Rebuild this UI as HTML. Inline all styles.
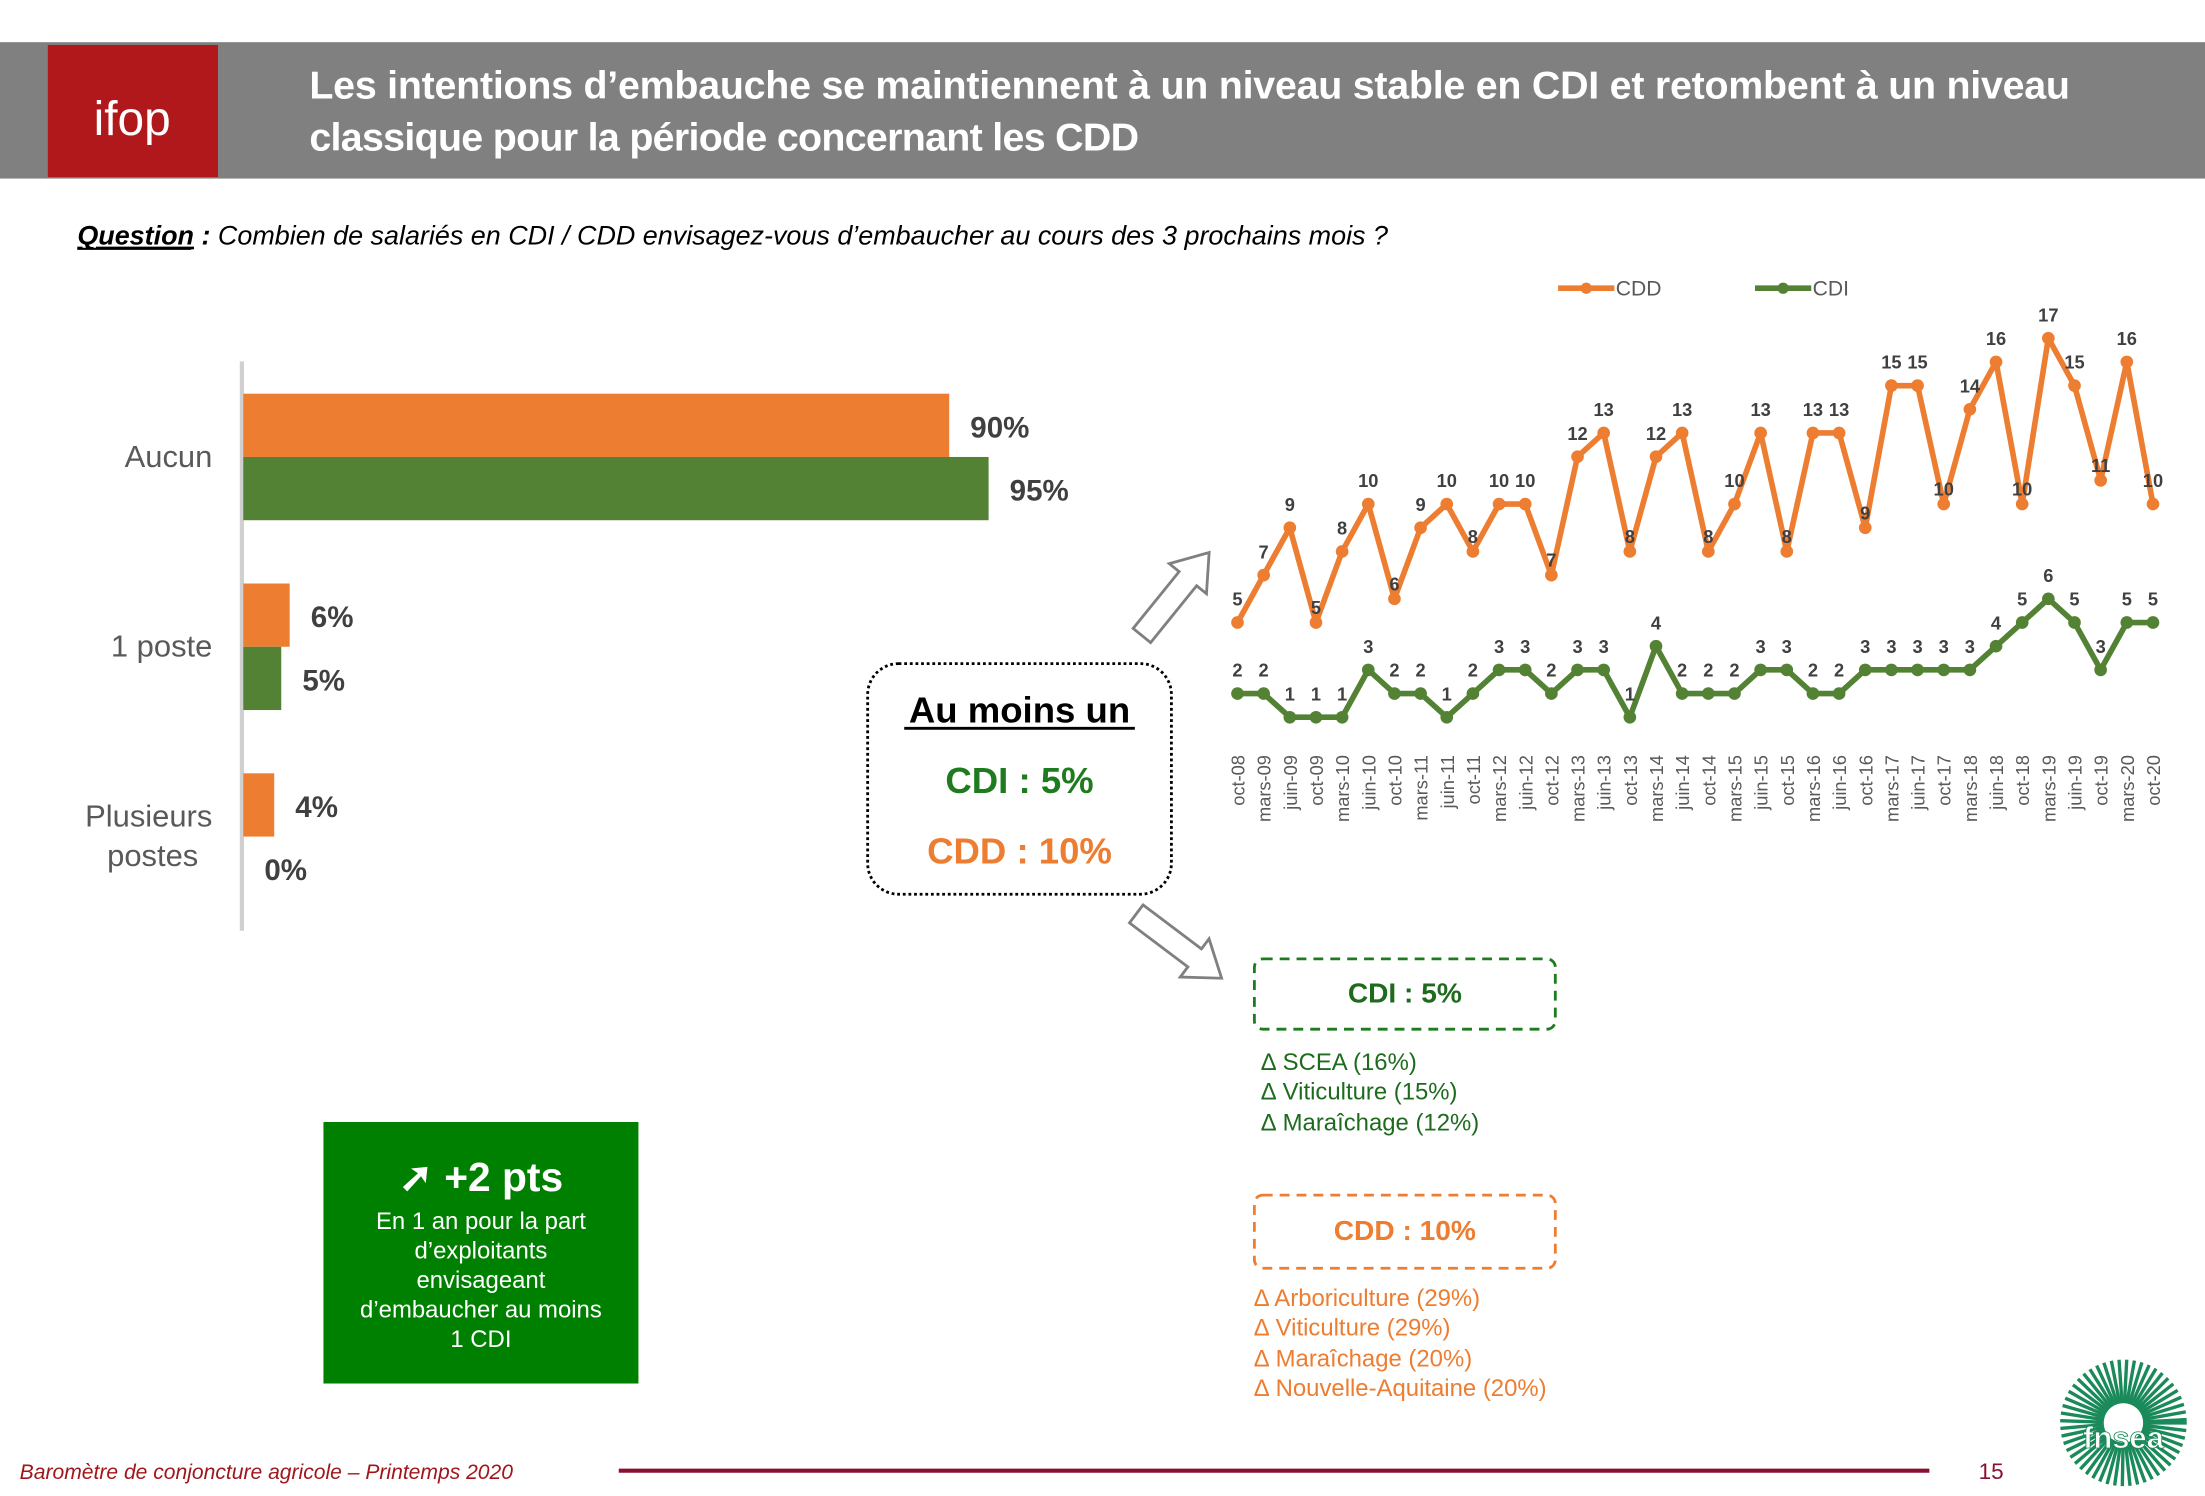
<!DOCTYPE html>
<html><head><meta charset="utf-8">
<style>
html,body{margin:0;padding:0;background:#fff;}
svg{display:block;}
text{font-family:"Liberation Sans",sans-serif;}
.n{font-family:"Liberation Sans Narrow","Liberation Sans",sans-serif;}
</style></head>
<body>
<svg id="s" width="2205" height="1496" viewBox="0 0 1568 1064" preserveAspectRatio="none" xmlns="http://www.w3.org/2000/svg">
<rect x="0" y="0" width="1568" height="1064" fill="#fff"/>
<rect x="0" y="30" width="1568" height="97" fill="#808080"/>
<rect x="34" y="32" width="121" height="94" fill="#b0181b"/>
<text x="94" y="96" fill="#fff" font-size="34" text-anchor="middle">ifop</text>
<text class="n" x="220" y="70" fill="#fff" font-size="28" font-weight="bold" textLength="1252" lengthAdjust="spacing">Les intentions d’embauche se maintiennent à un niveau stable en CDI et retombent à un niveau</text>
<text class="n" x="220" y="107" fill="#fff" font-size="28" font-weight="bold" textLength="590" lengthAdjust="spacing">classique pour la période concernant les CDD</text>
<text class="n" x="55" y="174" font-size="19" font-style="italic" fill="#000" textLength="932" lengthAdjust="spacingAndGlyphs"><tspan font-weight="bold" text-decoration="underline">Question</tspan><tspan font-weight="bold"> :</tspan> Combien de salariés en CDI / CDD envisagez-vous d’embaucher au cours des 3 prochains mois ?</text>
<line x1="55" y1="177" x2="136" y2="177" stroke="#000" stroke-width="1.5"/>

<line x1="172" y1="257" x2="172" y2="662" stroke="#d0d0d0" stroke-width="3"/>
<rect x="173" y="280" width="502" height="45" fill="#ed7d31"/>
<rect x="173" y="325" width="530" height="45" fill="#548235"/>
<rect x="173" y="415" width="33" height="45" fill="#ed7d31"/>
<rect x="173" y="460" width="27" height="45" fill="#548235"/>
<rect x="173" y="550" width="22" height="45" fill="#ed7d31"/>
<g font-size="21" font-weight="bold" fill="#404040">
<text x="690" y="311">90%</text><text x="718" y="356">95%</text>
<text x="221" y="446">6%</text><text x="215" y="491">5%</text>
<text x="210" y="581">4%</text><text x="188" y="626">0%</text>
</g>
<g font-size="22" fill="#595959" text-anchor="end">
<text x="151" y="332">Aucun</text>
<text x="151" y="467">1 poste</text>
<text x="151" y="588">Plusieurs</text>
<text x="141" y="616">postes</text>
</g>

<line x1="1108" y1="205" x2="1148" y2="205" stroke="#ed7d31" stroke-width="4"/><circle cx="1128" cy="205" r="4" fill="#ed7d31"/>
<text x="1149" y="210" font-size="15" fill="#595959">CDD</text>
<line x1="1248" y1="205" x2="1288" y2="205" stroke="#548235" stroke-width="4"/><circle cx="1268" cy="205" r="4" fill="#548235"/>
<text x="1289" y="210" font-size="15" fill="#595959">CDI</text>

<g id="chart"></g>

<g transform="translate(812,452) rotate(-51)">
<polygon points="0,-8 52,-8 52,-17 76,0 52,17 52,8 0,8" fill="#fff" stroke="#808080" stroke-width="2"/>
</g>
<g transform="translate(808,650) rotate(37)">
<polygon points="0,-8 52,-8 52,-17 76,0 52,17 52,8 0,8" fill="#fff" stroke="#808080" stroke-width="2"/>
</g>

<rect x="617" y="472" width="216" height="164" rx="22" fill="#fff" stroke="#000" stroke-width="2" stroke-dasharray="2,2"/>
<text x="725" y="514" font-size="26" font-weight="bold" text-anchor="middle" fill="#000">Au moins un</text>
<line x1="643" y1="518" x2="807" y2="518" stroke="#000" stroke-width="2"/>
<text x="725" y="564" font-size="26" font-weight="bold" text-anchor="middle" fill="#1e7b1e">CDI : 5%</text>
<text x="725" y="614" font-size="26" font-weight="bold" text-anchor="middle" fill="#ed7d31">CDD : 10%</text>

<rect x="892" y="682" width="214" height="50" rx="6" fill="#fff" stroke="#1e7b1e" stroke-width="2" stroke-dasharray="7,5"/>
<text x="999" y="713" font-size="20" font-weight="bold" text-anchor="middle" fill="#1e6b1e">CDI : 5%</text>
<g font-size="17" fill="#1e6b1e">
<text x="897" y="761">∆ SCEA (16%)</text>
<text x="897" y="782">∆ Viticulture (15%)</text>
<text x="897" y="804">∆ Maraîchage (12%)</text>
</g>
<rect x="892" y="850" width="214" height="52" rx="6" fill="#fff" stroke="#ed7d31" stroke-width="2" stroke-dasharray="7,5"/>
<text x="999" y="882" font-size="20" font-weight="bold" text-anchor="middle" fill="#ed7d31">CDD : 10%</text>
<g font-size="17" fill="#ed7d31">
<text x="892" y="929">∆ Arboriculture (29%)</text>
<text x="892" y="950">∆ Viticulture (29%)</text>
<text x="892" y="972">∆ Maraîchage (20%)</text>
<text x="892" y="993">∆ Nouvelle-Aquitaine (20%)</text>
</g>

<rect x="230" y="798" width="224" height="186" fill="#008000"/>
<text x="342" y="847" font-size="29" font-weight="bold" fill="#fff" text-anchor="middle">➚ +2 pts</text>
<g font-size="17" fill="#fff" text-anchor="middle">
<text x="342" y="874">En 1 an pour la part</text>
<text x="342" y="895">d’exploitants</text>
<text x="342" y="916">envisageant</text>
<text x="342" y="937">d’embaucher au moins</text>
<text x="342" y="958">1 CDI</text>
</g>

<text x="14" y="1052" font-size="15" font-style="italic" fill="#a0161b">Baromètre de conjoncture agricole – Printemps 2020</text>
<line x1="440" y1="1046" x2="1372" y2="1046" stroke="#8b1030" stroke-width="3"/>
<text x="1407" y="1052" font-size="16" fill="#8b1030">15</text>
<g id="logo"></g>
<text x="1510" y="1030" font-size="22" font-weight="bold" fill="#fff" stroke="#1a8a5a" stroke-width="0.6" text-anchor="middle" class="n">fnsea</text>
</svg>
<script>
(function(){
var NS="http://www.w3.org/2000/svg";
function el(n,a,p,t){var e=document.createElementNS(NS,n);for(var k in a)e.setAttribute(k,a[k]);if(t!==undefined)e.textContent=t;p.appendChild(e);return e;}
var g=document.getElementById("chart");
var labels=["oct-08","mars-09","juin-09","oct-09","mars-10","juin-10","oct-10","mars-11","juin-11","oct-11","mars-12","juin-12","oct-12","mars-13","juin-13","oct-13","mars-14","juin-14","oct-14","mars-15","juin-15","oct-15","mars-16","juin-16","oct-16","mars-17","juin-17","oct-17","mars-18","juin-18","oct-18","mars-19","juin-19","oct-19","mars-20","oct-20"];
var cdd=[5,7,9,5,8,10,6,9,10,8,10,10,7,12,13,8,12,13,8,10,13,8,13,13,9,15,15,10,14,16,10,17,15,11,16,10];
var cdi=[2,2,1,1,1,3,2,2,1,2,3,3,2,3,3,1,4,2,2,2,3,3,2,2,3,3,3,3,3,4,5,6,5,3,5,5];
var x0=880,x1=1531,n=36,dx=(x1-x0)/(n-1);
function X(i){return x0+i*dx;}
function Y(v){return 527-16.85*v;}
function series(d,c){
 var p=d.map(function(v,i){return X(i).toFixed(1)+","+Y(v).toFixed(1);}).join(" ");
 el("polyline",{points:p,fill:"none",stroke:c,"stroke-width":4,"stroke-linejoin":"round"},g);
 d.forEach(function(v,i){el("circle",{cx:X(i),cy:Y(v),r:4.5,fill:c},g);});
}
series(cdd,"#ed7d31");series(cdi,"#548235");
cdd.forEach(function(v,i){
 var up=true;
 if(i>0&&i<n-1&&cdd[i-1]>v&&cdd[i+1]>v)up=false;
 var y=up?Y(v)-12:Y(v)-6;
 el("text",{x:X(i),y:y,"font-size":13,"font-weight":"bold",fill:"#404040","text-anchor":"middle"},g,String(v));
});
cdi.forEach(function(v,i){
 el("text",{x:X(i),y:Y(v)-12,"font-size":13,"font-weight":"bold",fill:"#404040","text-anchor":"middle"},g,String(v));
});
labels.forEach(function(l,i){
 el("text",{x:0,y:0,"font-size":13,fill:"#595959","text-anchor":"end",transform:"translate("+(X(i)+5)+",537) rotate(-90)"},g,l);
});
var lg=document.getElementById("logo");
el("circle",{cx:1510,cy:1012,r:46,fill:"#fff"},lg);
for(var a=0;a<360;a+=7){
 var r=a*Math.PI/180;
 el("line",{x1:1510+14*Math.cos(r),y1:1012+14*Math.sin(r),x2:1510+45*Math.cos(r),y2:1012+45*Math.sin(r),stroke:"#1a8a5a","stroke-width":2.4},lg);
}
el("circle",{cx:1510,cy:1012,r:12,fill:"#fff"},lg);
})();
</script>
</body></html>
